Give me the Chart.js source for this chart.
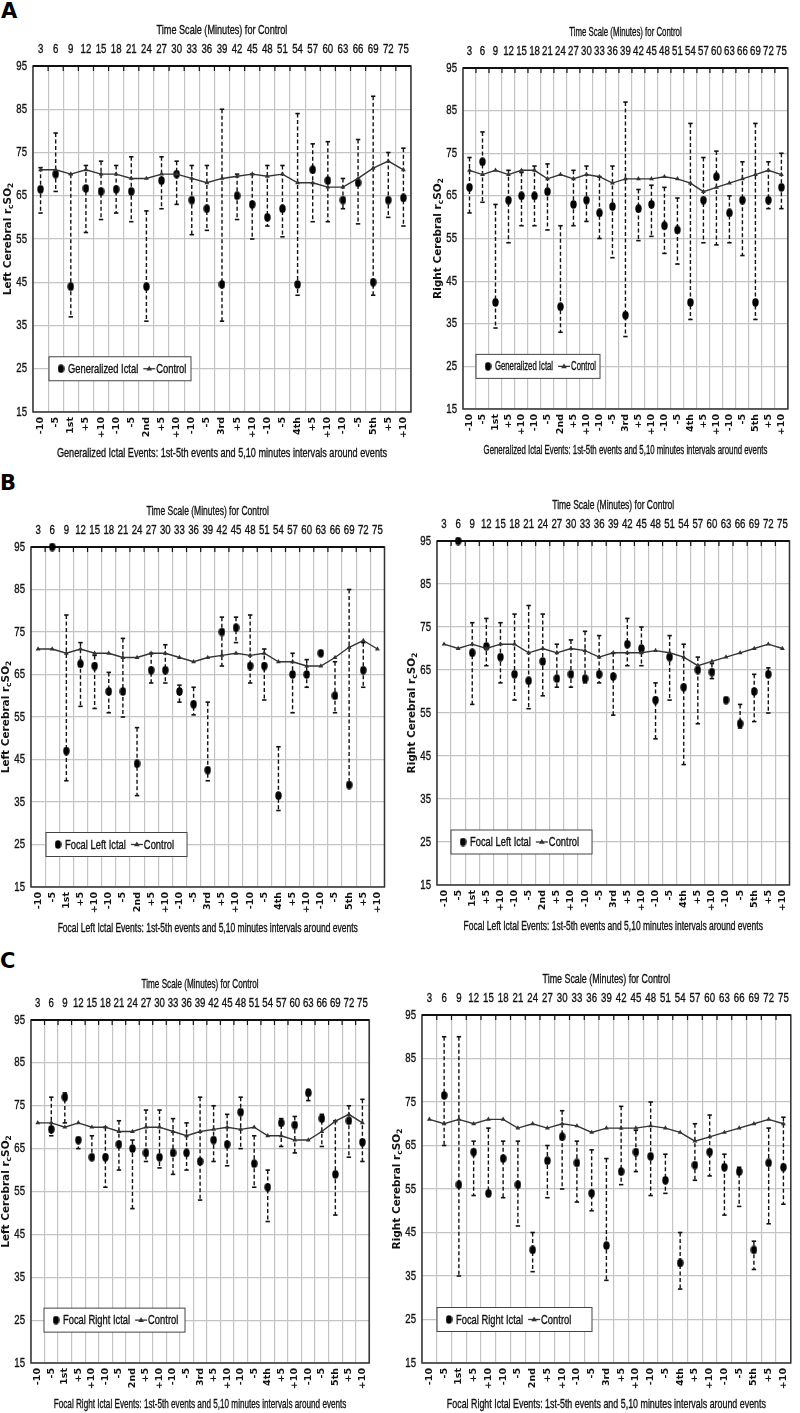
<!DOCTYPE html>
<html>
<head>
<meta charset="utf-8">
<script src="https://cdn.jsdelivr.net/npm/chart.js@4.4.1/dist/chart.umd.min.js"></script>
<style>
  body { margin: 0; background: #fff; }
  #page { position: relative; width: 800px; height: 1413px; overflow: hidden; background: #fff; }
  #page canvas { position: absolute; }
  .letra { position: absolute; font: bold 21px 'DejaVu Sans', sans-serif; line-height: 1; color: #000; }
</style>
</head>
<body>
<div id="page">
  <div class="letra" style="left:1px;top:1px">A</div>
  <div class="letra" style="left:0px;top:473px">B</div>
  <div class="letra" style="left:0px;top:951px">C</div>
</div>
<script>
let eventLabels = ['-10','-5','1st','+5','+10','-10','-5','2nd','+5','+10','-10','-5','3rd','+5','+10',
                   '-10','-5','4th','+5','+10','-10','-5','5th','+5','+10'];
let timeLabels = ['3','6','9','12','15','18','21','24','27','30','33','36','39','42','45','48','51','54',
                  '57','60','63','66','69','72','75'];
let yTicks = [15,25,35,45,55,65,75,85,95];

// control, same on every panel of a side
let controlLeft  = [71,71,70,71,70,70,69,69,70,70,69,68,69,69.5,70,69.5,70,68,68,67,67,69,71.4,73,71];
let controlRight = [71,70,71,70,71,71,69,70,69,70,69.5,68,69,69,69,69.5,69,68,66,67,68,69,70,71,70];

// A: generalized ictal
let aLeftMean = [66.5,70,44,66.7,66,66.5,66,44,68.5,70,64,62,44.5,65,63,60,62,44.5,71,68.5,64,68,45,64,64.5];
let aLeftHigh = [71.5,79.5,70,72,73,72,74,61.5,74,73,72,72,85,70,70,72,72,84,77,77.5,69,78,88,75,76];
let aLeftLow  = [61,66,37,56.5,59.5,61,59,36,62,63,56,57,36,59.5,55,58,55.5,42,59,59,62,58.5,42,60,58];

let aRightMean = [67,73,40,64,65,65,66,39,63,64,61,62.5,37,62,63,58,57,40,64,69.5,61,64,40,64,67];
let aRightHigh = [74,80,63,71,70.5,72,72.5,58,71,72,69.5,72,87,66.5,67.5,67,64.5,82,74,75.5,65,73,82,73,75];
let aRightLow  = [61,63.5,34,54,58,58,57,33,58,59,55,50.5,32,54.5,55.5,51.5,49,36,54,53.5,54,51,36,62,62];

// B: focal left ictal
let bLeftMean = [null,95,47,67.5,67,61,61,44,66,66,61,58,42.5,75,76,67,67,36.5,65,65,70,60,39,66,null];
let bLeftHigh = [null,null,79,72.5,69.5,65.5,73.5,52.5,70,72,62.5,62,58.5,78.5,78.5,79,71,48,70,68.5,null,68,85,72.5,null];
let bLeftLow  = [null,null,40,57.5,57,56,55,36.5,63,63,58.5,55.5,40,67,72.5,63,59,33,56,62,null,56,39,62,null];

let bRightMean = [null,95,69,70.5,68,64,62.5,67,63,64,63,64,63.5,71,70,58,68,61,65,64.5,58,52.5,60,64,null];
let bRightHigh = [null,null,76,77,76,78,80,78,71,72,74,73,69,77,75,62,73,71,68,66.5,null,57,64,65.5,null];
let bRightLow  = [null,null,57,66,62,58,56,59,61,61,62,62,54.5,66,66,49,58,43,52.5,63,null,51.5,53,55,null];

// C: focal right ictal
let cLeftMean = [null,69.5,77,67,63,63,66,65,64,63,64,64,62,67,66,73.5,61.5,56,71,70.5,78,72,59,71.5,66.5];
let cLeftHigh = [null,77,78,null,68,70,71.5,67,74,74,72,71,77,75,73,77,68,60,72,72.5,78.7,73,71.5,75,76.5];
let cLeftLow  = [null,68,71,65,null,56,60,51,62,60.5,59,60,53,62,61,65,56,48,65.5,64,76.2,65.5,49.5,63,62];

let cRightMean = [null,76.5,56,63.5,54,62,56,41,61.5,67,61,54,42,59,63.5,62.5,57,38,60.5,63.5,60,59,41,61,60];
let cRightHigh = [null,90,90,66,69,66,66,45,65,73,66,64,62,74,68.5,75,63,45,70,72,63,60,43,69,71.5];
let cRightLow  = [null,65,35,53.5,54,53,46.5,36,53,55,52,50,34,56,59,53.5,54,32,57,58,49,51,36.5,47,51.5];

let sans = "'Liberation Sans', Arial, sans-serif";
let wide = "'DejaVu Sans', sans-serif";
let ink = '#111';
let gridColor = '#c4c4c4';

let panels = [
  { plot: [33, 66, 416, 412], kind: 'Generalized Ictal', side: 'Left',
    mean: aLeftMean, high: aLeftHigh, low: aLeftLow, control: controlLeft, legend: [16, 142] },
  { plot: [463, 68, 794, 409], kind: 'Generalized Ictal', side: 'Right',
    mean: aRightMean, high: aRightHigh, low: aRightLow, control: controlRight, legend: [13, 124] },
  { plot: [31, 547, 390, 887], kind: 'Focal Left Ictal', side: 'Left',
    mean: bLeftMean, high: bLeftHigh, low: bLeftLow, control: controlLeft, legend: [15, 141] },
  { plot: [437, 541, 795, 885], kind: 'Focal Left Ictal', side: 'Right',
    mean: bRightMean, high: bRightHigh, low: bRightLow, control: controlRight, legend: [14, 141] },
  { plot: [31, 1020, 375, 1363], kind: 'Focal Right Ictal', side: 'Left',
    mean: cLeftMean, high: cLeftHigh, low: cLeftLow, control: controlLeft, legend: [13, 141] },
  { plot: [422, 1015, 798, 1363], kind: 'Focal Right Ictal', side: 'Right',
    mean: cRightMean, high: cRightHigh, low: cRightLow, control: controlRight, legend: [15, 155] }
];

let ellipseDot = (() => {
  let c = document.createElement('canvas');
  c.width = 7; c.height = 9;
  let g = c.getContext('2d');
  g.fillStyle = '#000';
  g.beginPath();
  g.ellipse(3.5, 4.5, 3.2, 4.2, 0, 0, Math.PI * 2);
  g.fill();
  return c;
})();

let drawTriangle = (ctx, x, y, r) => {
  ctx.beginPath();
  ctx.moveTo(x, y - r);
  ctx.lineTo(x + r * 0.95, y + r * 0.6);
  ctx.lineTo(x - r * 0.95, y + r * 0.6);
  ctx.closePath();
  ctx.fill();
};

// condensed text (the figure uses a narrow face that is not installed)
let texto = (ctx, txt, x, y, size, sx, align = 'center') => {
  ctx.save();
  ctx.font = `${size}px ${sans}`;
  ctx.fillStyle = ink;
  ctx.strokeStyle = ink;
  ctx.lineWidth = 0.35;
  ctx.textAlign = align;
  ctx.textBaseline = 'middle';
  ctx.translate(x, y);
  ctx.scale(sx, 1);
  ctx.fillText(txt, 0, 0);
  ctx.strokeText(txt, 0, 0);
  ctx.restore();
};

let anchoTexto = (ctx, txt, size, sx) => {
  ctx.save();
  ctx.font = `${size}px ${sans}`;
  let w = ctx.measureText(txt).width * sx;
  ctx.restore();
  return w;
};

let decoPlugin = (p) => ({
  id: 'deco',
  beforeDatasetsDraw: (chart) => {
    let ctx = chart.ctx, a = chart.chartArea, y = chart.scales.y;
    let meta = chart.getDatasetMeta(1);
    ctx.save();
    // frame
    ctx.strokeStyle = '#333';
    ctx.lineWidth = 1.5;
    ctx.strokeRect(a.left, a.top, a.right - a.left, a.bottom - a.top);
    ctx.strokeStyle = '#111';
    ctx.lineWidth = 2.2;
    ctx.beginPath(); ctx.moveTo(a.left, a.top); ctx.lineTo(a.right, a.top); ctx.stroke();
    let w = (a.right - a.left) / eventLabels.length;
    ctx.lineWidth = 1.2;
    for (let k = 1; k < eventLabels.length; k++) {
      let bx = a.left + k * w;
      ctx.beginPath(); ctx.moveTo(bx, a.top); ctx.lineTo(bx, a.top + 5); ctx.stroke();
    }
    // error bars
    ctx.strokeStyle = '#111';
    ctx.fillStyle = '#111';
    ctx.lineWidth = 1.4;
    p.mean.forEach((m, i) => {
      if (m === null) return;
      let hi = p.high[i] ?? m, lo = p.low[i] ?? m;
      if (hi === m && lo === m) return;
      let x = meta.data[i].x;
      let yh = y.getPixelForValue(hi), yl = y.getPixelForValue(lo);
      ctx.setLineDash([4, 2.5]);
      ctx.beginPath(); ctx.moveTo(x, yh); ctx.lineTo(x, yl); ctx.stroke();
      ctx.setLineDash([]);
      if (p.high[i] !== null) { ctx.fillRect(x - 2.2, yh - 0.8, 4.4, 1.6); }
      if (p.low[i] !== null) { ctx.fillRect(x - 2.2, yl - 0.8, 4.4, 1.6); }
    });
    ctx.restore();
  },
  afterDatasetsDraw: (chart) => {
    let ctx = chart.ctx, a = chart.chartArea, y = chart.scales.y;
    let bx = a.left + p.legend[0], bw = p.legend[1], bh = 24;
    let cy = y.getPixelForValue(25);
    // fit both labels in the box
    let size = 13;
    let libre = bw - 19 - 5 - 13 - 4;
    let sx = Math.min(0.72, libre / (anchoTexto(ctx, p.kind, size, 1) + anchoTexto(ctx, 'Control', size, 1)));
    if (sx < 0.66) {
      size = 12;
      sx = Math.min(0.72, libre / (anchoTexto(ctx, p.kind, size, 1) + anchoTexto(ctx, 'Control', size, 1)));
    }
    ctx.save();
    ctx.fillStyle = '#fff';
    ctx.fillRect(bx, cy - bh / 2, bw, bh);
    ctx.strokeStyle = '#444';
    ctx.lineWidth = 1;
    ctx.strokeRect(bx, cy - bh / 2, bw, bh);
    ctx.drawImage(ellipseDot, bx + 12 - 3.5, cy - 4.5);
    texto(ctx, p.kind, bx + 19, cy + 0.5, size, sx, 'left');
    let sxL = bx + 19 + anchoTexto(ctx, p.kind, size, sx) + 5;
    ctx.strokeStyle = '#333';
    ctx.lineWidth = 1.3;
    ctx.beginPath(); ctx.moveTo(sxL, cy); ctx.lineTo(sxL + 12, cy); ctx.stroke();
    ctx.fillStyle = '#333';
    drawTriangle(ctx, sxL + 6, cy, 3);
    texto(ctx, 'Control', sxL + 13, cy + 0.5, size, sx, 'left');
    ctx.restore();
  },
  afterDraw: (chart) => {
    let ctx = chart.ctx, a = chart.chartArea, y = chart.scales.y, x2 = chart.scales.x2;
    let k = (a.right - a.left) / 383;
    let sx = 0.71 * k;
    let mid = (a.left + a.right) / 2;
    texto(ctx, 'Time Scale (Minutes) for Control', mid, a.top - 36, 13, sx);
    timeLabels.forEach((t, i) => texto(ctx, t, x2.getPixelForValue(i), a.top - 17, 13, 0.74));
    yTicks.forEach((v) => texto(ctx, String(v), a.left - 6, y.getPixelForValue(v), 13, 0.74, 'right'));
    texto(ctx, `${p.kind} Events: 1st-5th events and 5,10 minutes intervals around events`,
          mid, a.bottom + 41, 13, sx);

    // y title with subscripts: Left Cerebral r_cSO_2
    let parts = [[`${p.side} Cerebral r`, 0], ['c', 1], ['SO', 0], ['2', 1]];
    let big = `bold 10.5px ${wide}`, small = `bold 7.5px ${wide}`;
    let total = 0;
    parts.forEach(([t, sub]) => { ctx.font = sub ? small : big; total += ctx.measureText(t).width; });
    ctx.save();
    ctx.translate(a.left - 25, (a.top + a.bottom) / 2);
    ctx.rotate(-Math.PI / 2);
    ctx.fillStyle = ink;
    ctx.textBaseline = 'middle';
    let cx = -total / 2;
    parts.forEach(([t, sub]) => {
      ctx.font = sub ? small : big;
      ctx.fillText(t, cx, sub ? 3 : 0);
      cx += ctx.measureText(t).width;
    });
    ctx.restore();
  }
});

let page = document.getElementById('page');

let crearPanel = (p) => {
  let [L, T, R, B] = p.plot;
  let padR = Math.min(4, 800 - R);
  let left = L - 33, top = T - 45;
  let width = R - L + 33 + padR, height = B - T + 45 + 50;
  let canvas = document.createElement('canvas');
  canvas.width = width; canvas.height = height;
  canvas.style.left = `${left}px`; canvas.style.top = `${top}px`;
  canvas.style.width = `${width}px`; canvas.style.height = `${height}px`;
  page.appendChild(canvas);

  return new Chart(canvas, {
    data: {
      labels: eventLabels,
      datasets: [
        { type: 'line', label: 'Control', data: p.control, borderColor: '#333', borderWidth: 1.4,
          pointStyle: 'triangle', pointRadius: 2.8, pointBackgroundColor: '#333', pointBorderColor: '#333',
          pointBorderWidth: 0, tension: 0, fill: false },
        { type: 'line', label: p.kind, data: p.mean, showLine: false, pointStyle: ellipseDot,
          pointRadius: 4, clip: false }
      ]
    },
    options: {
      responsive: false,
      animation: false,
      devicePixelRatio: 1,
      layout: { padding: { right: padR, left: 0, top: 0, bottom: 0 } },
      plugins: { legend: { display: false }, tooltip: { enabled: false } },
      scales: {
        x: {
          type: 'category', position: 'bottom', offset: true,
          grid: { offset: true, color: gridColor, lineWidth: 1.2, drawTicks: false },
          border: { display: false },
          ticks: { autoSkip: false, minRotation: 90, maxRotation: 90, padding: 5, color: ink,
                   font: { family: wide, size: 9.5, weight: 'bold' } },
          afterFit: (s) => { s.height = 50; }
        },
        x2: {
          type: 'category', position: 'top', labels: timeLabels, offset: true,
          grid: { display: false }, border: { display: false },
          ticks: { display: false, autoSkip: false },
          afterFit: (s) => { s.height = 45; }
        },
        y: {
          min: 15, max: 95,
          ticks: { display: false, stepSize: 10 },
          grid: { color: gridColor, lineWidth: 1.2, drawTicks: false },
          border: { display: false },
          afterFit: (s) => { s.width = 33; }
        }
      }
    },
    plugins: [decoPlugin(p)]
  });
};

panels.forEach(crearPanel);
</script>
</body>
</html>
